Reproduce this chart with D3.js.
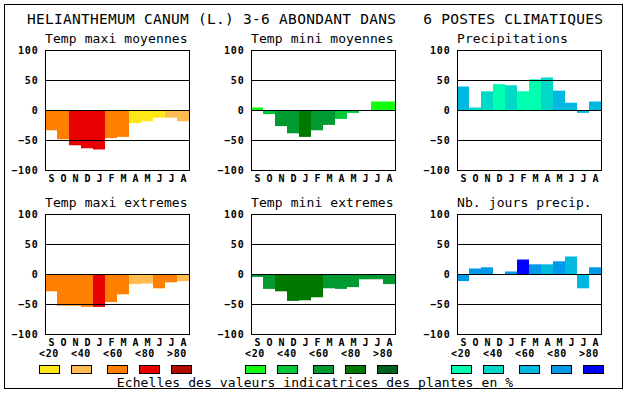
<!DOCTYPE html>
<html>
<head>
<meta charset="utf-8">
<script src="https://cdn.jsdelivr.net/npm/d3@7"></script>
<style>
  body { margin: 0; background: #fff; }
  svg { display: block; }
</style>
</head>
<body>
<div id="chart"></div>
<script>
// Month labels (Sept -> Aug)
var months = ["S", "O", "N", "D", "J", "F", "M", "A", "M", "J", "J", "A"];
var yTicks = [100, 50, 0, -50, -100];
var classLabels = ["<20", "<40", "<60", "<80", ">80"];

var mainTitle = "HELIANTHEMUM CANUM (L.) 3-6 ABONDANT DANS\u00A0\u00A0\u00A06 POSTES CLIMATIQUES";
var footText = "Echelles des valeurs indicatrices des plantes en %";

// Panel titles
var panelTitles = ["Temp maxi moyennes", "Temp mini moyennes", "Precipitations",
                   "Temp maxi extremes", "Temp mini extremes", "Nb. jours precip."];

// Values per month, and the class (0..4) that sets the colour
var tempMaxiMoy      = [-33, -48, -58, -63, -65, -46, -44, -21, -18, -12, -12, -18];
var tempMaxiMoyClass = [2, 2, 3, 3, 3, 2, 2, 0, 0, 0, 1, 1];

var tempMiniMoy      = [5, -6, -26, -38, -44, -33, -24, -14, -4, 0, 15, 15];
var tempMiniMoyClass = [0, 1, 2, 2, 3, 2, 2, 1, 1, 0, 0, 0];

var precip      = [40, 5, 32, 44, 42, 32, 52, 55, 33, 13, -4, 15];
var precipClass = [2, 1, 1, 0, 1, 0, 0, 1, 2, 2, 2, 2];

var tempMaxiExt      = [-28, -52, -52, -54, -54, -46, -33, -16, -15, -23, -13, -11];
var tempMaxiExtClass = [2, 2, 2, 2, 3, 2, 2, 1, 1, 2, 2, 1];

var tempMiniExt      = [-4, -24, -28, -44, -43, -38, -23, -24, -21, -8, -8, -16];
var tempMiniExtClass = [2, 2, 3, 3, 3, 3, 2, 2, 2, 2, 2, 2];

var nbJours      = [-11, 10, 12, 0, 5, 25, 17, 17, 22, 30, -23, 12];
var nbJoursClass = [3, 3, 3, 3, 3, 4, 3, 2, 3, 2, 2, 3];

// Colour scales, one per column
var redScale   = ["#FFE818", "#FFBC50", "#FF8000", "#E80000", "#B00C00"];
var greenScale = ["#10FF10", "#00C838", "#009A30", "#007800", "#00601E"];
var blueScale  = ["#00FFB0", "#00D8C8", "#00B8E0", "#0098E8", "#0000FF"];
var columnColors = [redScale, greenScale, blueScale];

var panelValues = [tempMaxiMoy, tempMiniMoy, precip, tempMaxiExt, tempMiniExt, nbJours];
var panelClasses = [tempMaxiMoyClass, tempMiniMoyClass, precipClass,
                    tempMaxiExtClass, tempMiniExtClass, nbJoursClass];

// Layout
var width = 630, height = 394;
var colLeft = [45.5, 251.5, 457.5];
var rowTop = [50.5, 214.5];
var plotW = 144, plotH = 120;

var monoFont = "'DejaVu Sans Mono', 'Liberation Mono', monospace";

var svg = d3.select("#chart")
            .append("svg")
            .attr("width", width)
            .attr("height", height);

svg.append("rect")
   .attr("width", width)
   .attr("height", height)
   .attr("fill", "#fff");

// Outer border
svg.append("rect")
   .attr("x", 4.5)
   .attr("y", 4.5)
   .attr("width", 618)
   .attr("height", 384)
   .attr("fill", "none")
   .attr("stroke", "#000");

// Main title
svg.append("text")
   .attr("x", 315)
   .attr("y", 23.5)
   .attr("text-anchor", "middle")
   .attr("textLength", 576)
   .attr("lengthAdjust", "spacing")
   .style("font-family", monoFont)
   .style("font-size", "14.5px")
   .text(mainTitle);

// Draw the six panels
panelValues.forEach(function(values, p) {
    var col = p % 3, row = Math.floor(p / 3);
    var left = colLeft[col], top = rowTop[row];
    var colors = columnColors[col];
    var classes = panelClasses[p];

    var x = d3.scaleBand()
              .domain(d3.range(months.length))
              .range([left, left + plotW]);

    var y = d3.scaleLinear()
              .domain([-100, 100])
              .range([top + plotH, top]);

    var g = svg.append("g");

    // Title
    g.append("text")
     .attr("x", left - 0.5)
     .attr("y", top - 8)
     .style("font-family", monoFont)
     .style("font-size", "13px")
     .style("letter-spacing", "0.1px")
     .text(panelTitles[p]);

    // Bars
    g.selectAll("rect.bar")
     .data(values)
     .enter()
     .append("rect")
     .attr("class", "bar")
     .attr("x", function(d, i) { return x(i) - 0.5; })
     .attr("y", function(d) { return y(Math.max(d, 0)); })
     .attr("width", x.bandwidth())
     .attr("height", function(d) { return Math.abs(y(d) - y(0)); })
     .attr("fill", function(d, i) { return colors[classes[i]]; });

    // Grid lines at 50, 0, -50
    g.selectAll("line.grid")
     .data([50, 0, -50])
     .enter()
     .append("line")
     .attr("class", "grid")
     .attr("x1", left)
     .attr("x2", left + plotW)
     .attr("y1", function(d) { return y(d); })
     .attr("y2", function(d) { return y(d); })
     .attr("stroke", "#000");

    // Frame
    g.append("rect")
     .attr("x", left)
     .attr("y", top)
     .attr("width", plotW)
     .attr("height", plotH)
     .attr("fill", "none")
     .attr("stroke", "#000");

    // Y axis labels
    var yAxis = g.append("g")
                 .attr("transform", "translate(" + left + ",0)")
                 .call(d3.axisLeft(y).tickValues(yTicks).tickSize(0).tickPadding(7));
    yAxis.select(".domain").remove();
    yAxis.selectAll("text")
         .style("font-family", monoFont)
         .style("font-weight", "bold")
         .style("font-size", "10px")
         .style("letter-spacing", "0.8px")
         .attr("fill", "#000");

    // Month labels
    var xAxis = g.append("g")
                 .attr("transform", "translate(0," + (top + plotH) + ")")
                 .call(d3.axisBottom(x).tickFormat(function(i) { return months[i]; })
                                      .tickSize(0).tickPadding(4));
    xAxis.select(".domain").remove();
    xAxis.selectAll("text")
         .style("font-family", monoFont)
         .style("font-weight", "bold")
         .style("font-size", "10px")
         .attr("fill", "#000");

    // Legend under the bottom row
    if (row === 1) {
        var lg = svg.append("g");
        lg.selectAll("text")
          .data(classLabels)
          .enter()
          .append("text")
          .attr("x", function(d, i) { return left - 1 + 4.5 + i * 32; })
          .attr("y", 357)
          .attr("text-anchor", "middle")
          .style("font-family", monoFont)
          .style("font-weight", "bold")
          .style("font-size", "10px")
          .style("letter-spacing", "0.6px")
          .text(function(d) { return d; });

        lg.selectAll("rect")
          .data(colors)
          .enter()
          .append("rect")
          .attr("x", function(d, i) { return left - 6 + i * 32 + (i >= 2 ? 4 : 0); })
          .attr("y", 365.5)
          .attr("width", 20)
          .attr("height", 8)
          .attr("fill", function(d) { return d; })
          .attr("stroke", "#000");
    }
});

// Footer note
svg.append("text")
   .attr("x", 315)
   .attr("y", 386.5)
   .attr("text-anchor", "middle")
   .style("font-family", monoFont)
   .style("font-size", "13px")
   .style("letter-spacing", "0.1px")
   .text(footText);
</script>
</body>
</html>
